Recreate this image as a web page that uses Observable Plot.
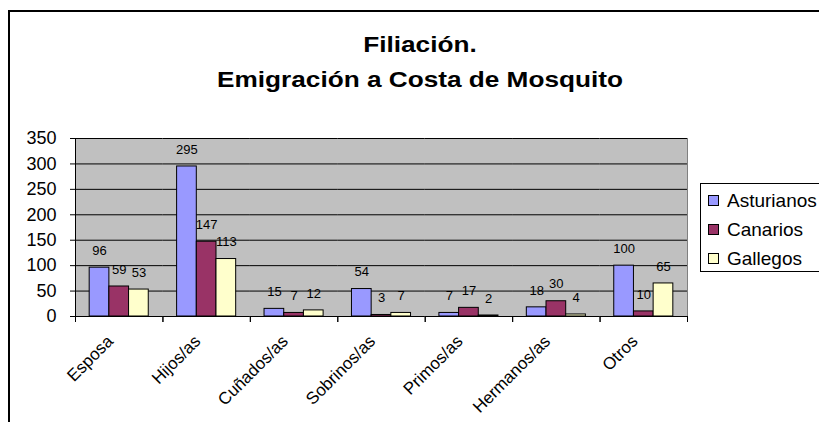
<!DOCTYPE html>
<html>
<head>
<meta charset="utf-8">
<script src="https://cdn.jsdelivr.net/npm/d3@7"></script>
<script src="https://cdn.jsdelivr.net/npm/@observablehq/plot@0.6"></script>
<style>
  html, body { margin: 0; padding: 0; background: #fff; }
  body { width: 819px; height: 422px; position: relative; overflow: hidden; font-family: "Liberation Sans", Arial, sans-serif; }
  #chart { position: absolute; left: 0; top: 0; }
  #border { position: absolute; left: 8px; top: 10px; width: 900px; height: 500px; border-left: 2px solid #000; border-top: 2px solid #000; pointer-events: none; }
  #title { position: absolute; left: 20px; top: 27px; width: 800px; text-align: center; font-weight: bold; font-size: 22px; line-height: 35px; color: #000; transform: scaleX(1.19); transform-origin: 400px 0; }
  #legend { position: absolute; left: 700px; top: 183px; width: 140px; height: 89px; border: 1px solid #000; background: #fff; box-sizing: border-box; padding-top: 2px; }
  .row { display: flex; align-items: center; height: 29px; padding-left: 7px; font-size: 19px; color: #000; }
  .sw { width: 11px; height: 11px; border: 1px solid #000; margin-right: 8px; box-sizing: border-box; }
</style>
</head>
<body>
<div id="chart"></div>
<div id="title">Filiación.<br>Emigración a Costa de Mosquito</div>
<div id="legend"></div>
<div id="border"></div>
<script>
const categories = ["Esposa", "Hijos/as", "Cuñados/as", "Sobrinos/as", "Primos/as", "Hermanos/as", "Otros"];
const series = ["Asturianos", "Canarios", "Gallegos"];
const asturianos = [96, 295, 15, 54, 7, 18, 100];
const canarios = [59, 147, 7, 3, 17, 30, 10];
const gallegos = [53, 113, 12, 7, 2, 4, 65];
const colors = ["#9999FF", "#993366", "#FFFFCC"];
const yTicks = [0, 50, 100, 150, 200, 250, 300, 350];

const seriesValues = [asturianos, canarios, gallegos];
const data = [];
categories.forEach((cat, i) => {
  series.forEach((s, j) => data.push({cat, series: s, value: seriesValues[j][i]}));
});

const W = 819, H = 422, mL = 75, mR = 132, mT = 138, mB = 106;
const step = (W - mL - mR) / categories.length;

const chart = Plot.plot({
  width: W, height: H,
  marginLeft: mL, marginRight: mR, marginTop: mT, marginBottom: mB,
  style: {background: "transparent", fontFamily: "'Liberation Sans', Arial, sans-serif", color: "#000"},
  fx: {domain: categories, padding: 0, round: false, label: null},
  x: {domain: series, paddingInner: 0, paddingOuter: 0.72, round: false, axis: null},
  y: {domain: [0, 350], label: null},
  color: {domain: series, range: colors},
  marks: [
    Plot.frame({fill: "#c0c0c0", stroke: null, facet: "super"}),
    Plot.ruleY(yTicks, {stroke: "#000", strokeWidth: 1}),
    Plot.frame({anchor: "right", stroke: "#808080", facet: "super"}),
    Plot.barY(data, {fx: "cat", x: "series", y: "value", fill: "series", stroke: "#000", strokeWidth: 1}),
    Plot.text(data, {fx: "cat", x: "series", y: "value", text: d => String(d.value), dy: -17, fontSize: 13, fill: "#000"}),
    Plot.axisY({ticks: yTicks, tickSize: 5, tickPadding: 14, fontSize: 18, label: null}),
    Plot.frame({anchor: "left", stroke: "#000", facet: "super"}),
    Plot.axisFx({anchor: "bottom", text: null, tickSize: 6, dx: -step / 2, label: null}),
    Plot.axisFx([categories[categories.length - 1]], {anchor: "bottom", text: null, tickSize: 6, dx: step / 2, label: null}),
    Plot.axisFx({anchor: "bottom", tickSize: 0, tickRotate: -45, tickPadding: 22, dx: -9, fontSize: 17, label: null})
  ]
});
document.getElementById("chart").appendChild(chart);

const legend = document.getElementById("legend");
series.forEach((s, i) => {
  const row = document.createElement("div");
  row.className = "row";
  const sw = document.createElement("div");
  sw.className = "sw";
  sw.style.background = colors[i];
  const t = document.createElement("span");
  t.textContent = s;
  row.appendChild(sw);
  row.appendChild(t);
  legend.appendChild(row);
});
</script>
</body>
</html>
